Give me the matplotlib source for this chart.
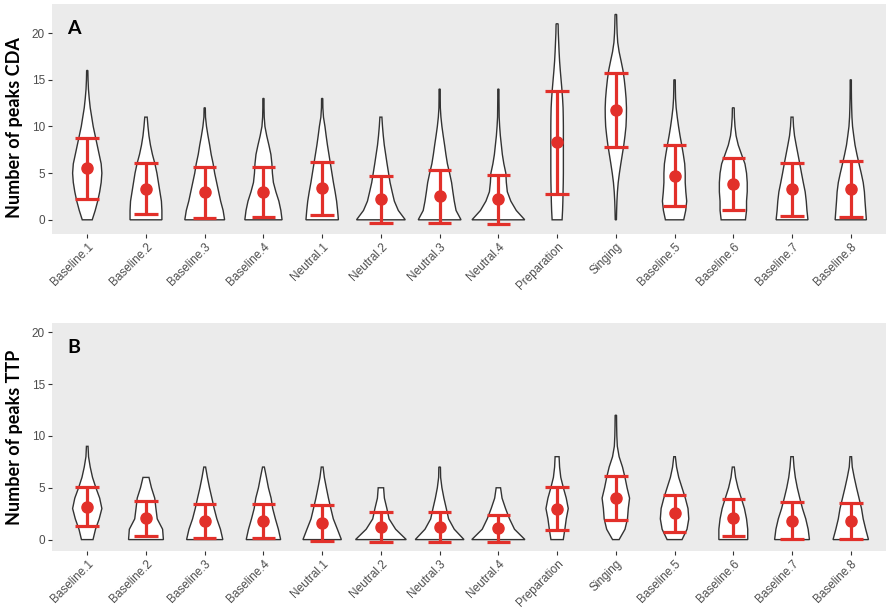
import numpy as np
import matplotlib
matplotlib.use("Agg")
import matplotlib.pyplot as plt

categories = ["Baseline.1", "Baseline.2", "Baseline.3", "Baseline.4",
              "Neutral.1", "Neutral.2", "Neutral.3", "Neutral.4",
              "Preparation", "Singing",
              "Baseline.5", "Baseline.6", "Baseline.7", "Baseline.8"]

# panel A: number of peaks CDA (mean +/- sd)
cda_mean = [5.5, 3.3, 2.95, 2.95, 3.4, 2.2, 2.5, 2.2, 8.3, 11.8, 4.7, 3.85, 3.25, 3.25]
cda_lo = [2.25, 0.6, 0.18, 0.3, 0.5, -0.3, -0.3, -0.4, 2.8, 7.85, 1.43, 1.05, 0.43, 0.25]
cda_hi = [8.75, 6.05, 5.65, 5.65, 6.2, 4.7, 5.3, 4.8, 13.8, 15.7, 8.0, 6.6, 6.07, 6.25]

# panel B: number of peaks TTP
ttp_mean = [3.15, 2.05, 1.75, 1.75, 1.6, 1.2, 1.2, 1.1, 3.0, 4.05, 2.6, 2.1, 1.8, 1.8]
ttp_lo = [1.3, 0.32, 0.13, 0.2, -0.1, -0.2, -0.2, -0.2, 0.93, 1.87, 0.74, 0.3, 0.1, 0.1]
ttp_hi = [5.1, 3.77, 3.45, 3.45, 3.3, 2.7, 2.7, 2.4, 5.06, 6.1, 4.35, 3.9, 3.6, 3.5]

# violin density profiles, relative half-width at y = 0, 1, 2, ...
cda_density = [
    [5, 8, 10.5, 12.5, 14, 14.7, 14, 12, 10, 8, 6, 4.5, 3, 2, 1.2, 0.8, 0.6],
    [16, 16, 15.5, 14, 12.5, 11, 9, 6.5, 4.5, 3, 2, 1.2],
    [20, 18.5, 16, 14, 12, 10, 8.5, 6.5, 5, 3.3, 1.8, 0.8, 0.6],
    [18.7, 17.5, 15.5, 12.5, 10, 9, 8.5, 7.5, 5.5, 3.3, 1.5, 0.8, 0.6, 0.6],
    [16.3, 15.5, 14.5, 13, 11.3, 9.8, 8.3, 6.8, 5.3, 4, 2.8, 1.3, 0.7, 0.6],
    [24.5, 17.5, 13.5, 11.3, 9.2, 7.7, 6.2, 4.8, 3.4, 2.4, 1.6, 1.0],
    [21.5, 16.5, 14.7, 13.3, 12, 10, 7.8, 6.3, 5, 3.6, 2.3, 1.3, 0.7, 0.6, 0.6],
    [26.5, 18, 12.5, 9, 8, 7.5, 5.5, 4, 3, 2, 1.3, 0.8, 0.7, 0.6, 0.6],
    [5, 5.5, 5.8, 6, 6.2, 6.3, 6.3, 6.3, 6.3, 6.3, 6.3, 6.2, 6, 5.5, 4.8, 4, 3.2, 2.5, 2, 1.6, 1.2, 1.0],
    [0.6, 0.8, 1.1, 1.6, 2.4, 3.6, 5, 6.5, 8, 9.2, 10.2, 10.6, 10.7, 10.3, 9.5, 8.5, 7.2, 5.3, 3.3, 1.9, 1.3, 1.0, 0.8],
    [9.2, 11.2, 12.2, 11.3, 10.7, 10.7, 10.2, 8.8, 7.2, 5.5, 4, 2.7, 1.6, 1.0, 0.8, 0.7],
    [12.2, 13.3, 13.3, 14, 14, 13.3, 11.7, 8.3, 5, 2.8, 1.7, 1.1, 0.9],
    [16, 15, 14.3, 13.2, 11.3, 9.5, 7.8, 6, 4.2, 2.5, 1.5, 1.0],
    [15.7, 15, 14.3, 13.7, 12.5, 10.5, 8.3, 6.2, 4.3, 3, 1.8, 1.2, 0.9, 0.7, 0.6, 0.6],
]
ttp_density = [
    [5.8, 8.3, 12, 14.7, 12.5, 8.7, 5.3, 3, 1.3, 0.8],
    [17.5, 16.7, 11.3, 10, 8.8, 5.5, 3],
    [18.2, 15.8, 12.2, 9.5, 7.2, 4.8, 2.7, 0.9],
    [17.3, 15, 12, 9.3, 7.7, 5, 3, 0.9],
    [19.3, 15.3, 11.2, 8.7, 6.3, 4.2, 2.2, 0.9],
    [25.5, 14.8, 8.2, 6, 3.5, 2.7],
    [24.5, 14.7, 9, 6.7, 4.3, 2.3, 1, 0.8],
    [26.7, 16.2, 11.2, 7.2, 3.7, 2.2],
    [6.2, 7.8, 9.2, 11.2, 9.2, 6.3, 3.7, 2.5, 2],
    [3.3, 9.2, 11.7, 12.5, 13.8, 11.3, 9.2, 6.7, 3.3, 1.5, 1, 0.8, 0.7],
    [7.5, 12.5, 14.3, 13.5, 10.8, 7.5, 4.2, 2, 0.8],
    [14.5, 14.5, 13.3, 11.2, 8, 4.7, 2.3, 1.0],
    [17.5, 16.2, 13.8, 10.5, 7.8, 5.3, 3.3, 2, 1.2],
    [17.8, 15, 12.5, 10.8, 8.3, 5.8, 3.5, 1.5, 0.8],
]

RED = "#E2302A"
BG = "#EBEBEB"
WSCALE = 1 / 59.0

fig = plt.figure(figsize=(8.87, 6.14), dpi=100)
ax_a = fig.add_axes([52 / 887, 1 - 234 / 614, 834 / 887, 230 / 614])
ax_b = fig.add_axes([52 / 887, 1 - 551 / 614, 834 / 887, 228 / 614])


def draw_panel(ax, density, mean, lo, hi, ylim, letter):
    ax.set_facecolor(BG)
    x = np.arange(1, len(categories) + 1)
    for xi, prof in zip(x, density):
        hw = np.array(prof) * WSCALE
        ys = np.arange(len(prof))
        px = np.concatenate([xi - hw, (xi + hw)[::-1]])
        py = np.concatenate([ys, ys[::-1]])
        ax.fill(px, py, facecolor="white", edgecolor="#333333", linewidth=1.0, zorder=2)
    ax.vlines(x, lo, hi, color=RED, linewidth=2.3, zorder=3)
    ax.hlines(lo, x - 0.2, x + 0.2, color=RED, linewidth=2.3, zorder=3)
    ax.hlines(hi, x - 0.2, x + 0.2, color=RED, linewidth=2.3, zorder=3)
    ax.plot(x, mean, "o", color=RED, markersize=8, zorder=4)

    ax.set_xlim(0.4, len(categories) + 0.6)
    ax.set_ylim(*ylim)
    ax.set_yticks([0, 5, 10, 15, 20])
    ax.set_xticks(x)
    ax.set_xticklabels(categories, rotation=45, ha="right", va="top",
                       rotation_mode="anchor", fontsize=8.5, color="#4D4D4D",
                       family="Liberation Sans")
    for lab in ax.get_yticklabels():
        lab.set_fontsize(8.5)
        lab.set_color("#4D4D4D")
        lab.set_family("Liberation Sans")
    ax.tick_params(length=3, width=0.8, color="#333333", pad=2)
    for s in ax.spines.values():
        s.set_visible(False)
    ax.text(0.018, 0.93, letter, transform=ax.transAxes, fontsize=14,
            fontweight="bold", family="Lato", va="top", ha="left")


draw_panel(ax_a, cda_density, cda_mean, cda_lo, cda_hi, (-1.52, 23.12), "A")
draw_panel(ax_b, ttp_density, ttp_mean, ttp_lo, ttp_hi, (-1.1, 20.9), "B")

fig.text(15 / 887, 1 - 127.5 / 614, "Number of peaks CDA", rotation=90,
         ha="center", va="center", fontsize=13, fontweight="bold", family="Lato")
fig.text(15 / 887, 1 - 437 / 614, "Number of peaks TTP", rotation=90,
         ha="center", va="center", fontsize=13, fontweight="bold", family="Lato")

fig.savefig("out.png", dpi=100)
